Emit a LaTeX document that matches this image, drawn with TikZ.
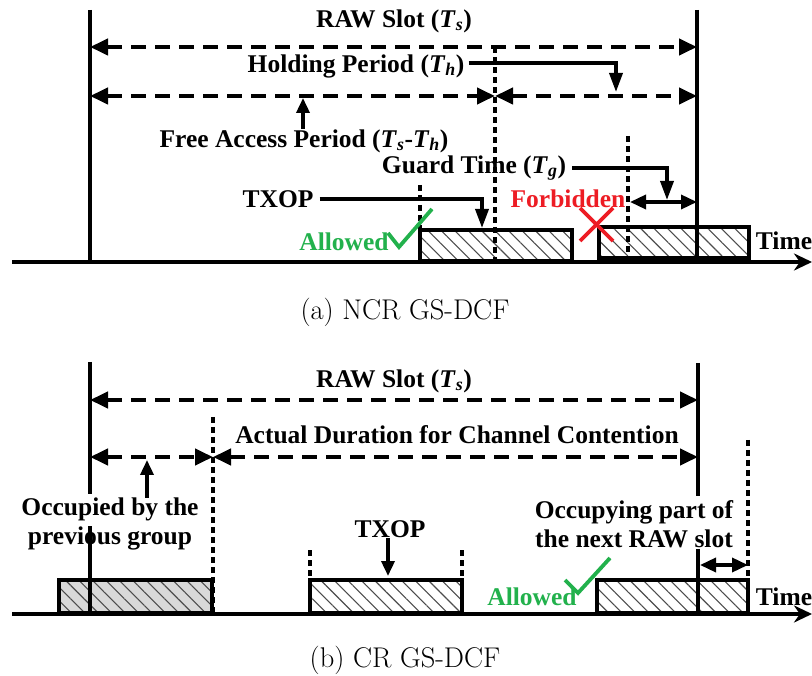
\documentclass[tikz,border=0pt]{standalone}
\usepackage{fontspec}
\newfontfamily\tnr{Liberation Serif}
\usetikzlibrary{arrows.meta,patterns.meta}
\definecolor{okgreen}{RGB}{34,177,76}
\definecolor{nored}{RGB}{237,28,36}
\newcommand\Tsub[1]{\textit{T}\textsubscript{\textit{#1}}}
\begin{document}
\begin{tikzpicture}[x=1pt,y=-1pt,
  lbl/.style={font=\tnr\bfseries\fontsize{25.5}{29}\selectfont, inner sep=0pt},
  captiontext/.style={font=\fontsize{28.5}{32}\selectfont, inner sep=0pt},
  solidln/.style={line width=3.8pt},
  axisln/.style={line width=4.2pt,-{Stealth[length=18pt,width=17pt]}},
  dashln/.style={line width=4pt,dash pattern=on 15pt off 9pt},
  dotln/.style={line width=3.6pt,dash pattern=on 6pt off 4pt},
  dim/.style={dashln,{Triangle[length=18pt,width=16pt]}-{Triangle[length=18pt,width=16pt]}},
  dimsolid/.style={line width=3.5pt,{Triangle[length=16pt,width=14pt]}-{Triangle[length=16pt,width=14pt]}},
  conn/.style={line width=3.5pt,-{Triangle[length=19pt,width=13pt]}},
  conntwo/.style={line width=3.5pt,-{Triangle[length=15pt,width=13pt]}},
  slotbox/.style={line width=3.8pt,pattern={Lines[angle=-45,distance=9.5pt,line width=1.1pt]},pattern color=black!70},
  check/.style={okgreen,line width=3.8pt},
  cross/.style={nored,line width=3.8pt}]
\useasboundingbox (0,0) rectangle (812,676);

% ---------------- panel (a) ----------------
\coordinate (a0) at (12,262);
\coordinate (a1) at (812,262);
\draw[slotbox] (420,230) rectangle (572,261);
\draw[slotbox] (599,227) rectangle (749,258);
\draw[axisln] (a0) -- (a1);
\draw[solidln] (90,10) -- (90,262);
\draw[solidln] (697,10) -- (697,258);

\draw[dotln] (495,47) -- (495,262);
\draw[dotln] (420,185) -- (420,230);
\draw[dotln] (628,136) -- (628,262);

\draw[dim] (90,47) -- (697,47);
\draw[dim] (90,96) -- (495,96);
\draw[dim] (495,96) -- (697,96);
\draw[dimsolid] (630,202) -- (697,202);

\node[lbl] (raw1) at (394,21) {RAW Slot (\Tsub{s})};
\node[lbl] (hold) at (356,66) {Holding Period (\Tsub{h})};
\node[lbl] (fap) at (304,141) {Free Access Period (\Tsub{s}-\Tsub{h})};
\node[lbl] (gt) at (474,168) {Guard Time (\Tsub{g})};
\node[lbl] (txop1) at (278,199) {TXOP};
\node[lbl, text=nored] (forb) at (568,199) {Forbidden};
\node[lbl, text=okgreen] (allow1) at (344,242) {Allowed};
\node[lbl] (time1) at (784,241) {Time};
\node[captiontext] (capa) at (405,312) {(a) NCR GS-DCF};

\coordinate (holdTip) at (616,92);
\draw[conn] ([xshift=4pt,yshift=3pt]hold.east) -| (holdTip);
\coordinate (fapTip) at (303,98);
\draw[conntwo] (fap.north -| fapTip) -- (fapTip);
\coordinate (gtTip) at (667,200);
\draw[conn] ([xshift=6pt]gt.east) -| (gtTip);
\coordinate (txTip) at (482,228);
\draw[conn] ([xshift=6pt]txop1.east) -| (txTip);

\draw[check] (388,233) -- (399,247) -- (432,209);
\draw[cross] (580,208) -- (613,241) (613,208) -- (580,241);

% ---------------- panel (b) ----------------
\coordinate (b0) at (12,614);
\coordinate (b1) at (812,614);
\draw[slotbox, preaction={fill=gray!30}] (59,580) rectangle (212,613);
\draw[slotbox] (310,580) rectangle (462,613);
\draw[slotbox] (597,580) rectangle (748,613);
\draw[axisln] (b0) -- (b1);
\draw[solidln] (90,362) -- (90,494);
\draw[solidln] (90,526) -- (90,614);
\draw[solidln] (698,363) -- (698,496);
\draw[solidln] (698,549) -- (698,614);

\draw[dotln] (213,417) -- (213,614);
\draw[dotln] (310,550) -- (310,580);
\draw[dotln] (462,550) -- (462,580);
\draw[dotln] (748,440) -- (748,580);

\draw[dim] (90,400) -- (698,400);
\draw[dim] (90,457) -- (213,457);
\draw[dim] (213,457) -- (698,457);
\draw[dimsolid] (700,565) -- (748,565);

\node[lbl] (raw2) at (394,381) {RAW Slot (\Tsub{s})};
\node[lbl] (actual) at (457,435) {Actual Duration for Channel Contention};
\node[lbl, align=center] (occ) at (110,524) {Occupied by the\\previous group};
\node[lbl] (txop2) at (390,529) {TXOP};
\node[lbl, text=okgreen] (allow2) at (532,597) {Allowed};
\node[lbl, align=center] (occp) at (634,524) {Occupying part of\\the next RAW slot};
\node[lbl] (time2) at (784,597) {Time};
\node[captiontext] (capb) at (405,660) {(b) CR GS-DCF};

\coordinate (occTip) at (147,460);
\draw[conntwo] (occ.north -| occTip) -- (occTip);
\coordinate (tx2Tip) at (388,576);
\draw[conntwo] (txop2.south -| tx2Tip) -- (tx2Tip);

\draw[check] (565,580) -- (578,593) -- (610,558);
\end{tikzpicture}
\end{document}
